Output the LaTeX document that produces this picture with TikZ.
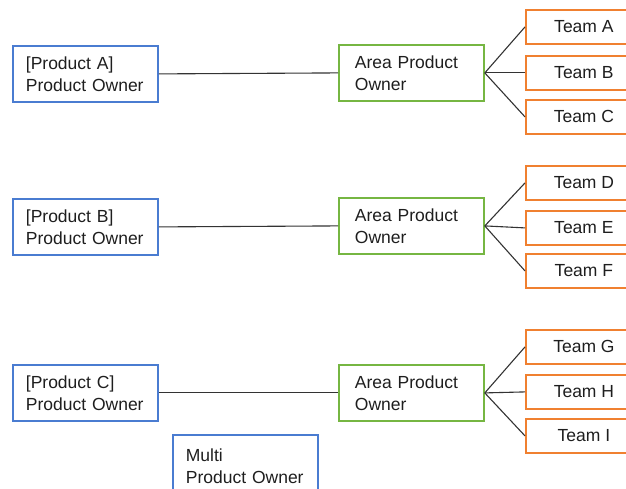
\documentclass[tikz,border=0pt]{standalone}
\usepackage{fontspec}
\setmainfont{Liberation Sans}
\definecolor{poblue}{RGB}{74,124,209}
\definecolor{apogreen}{RGB}{118,182,66}
\definecolor{teamorange}{RGB}{240,128,48}
\definecolor{txtgrey}{RGB}{30,30,30}
\tikzset{
  box/.style={rectangle,line width=1.8pt,anchor=north west,minimum height=56pt,
    text=txtgrey,font=\fontsize{17.5}{22}\selectfont},
  pobox/.style={box,draw=poblue,text width=119pt,inner xsep=13pt,align=left},
  apobox/.style={box,draw=apogreen,text width=113pt,inner xsep=16pt,align=left},
  teambox/.style={box,draw=teamorange,minimum height=34pt,minimum width=116pt,align=center},
  link/.style={draw=black!80,line width=1.1pt}
}
\begin{document}
\begin{tikzpicture}[x=1pt,y=-1pt]
\useasboundingbox (0,0) rectangle (626,488);
% product A
\node[pobox] (poA) at (12,45) {[Product A]\\Product Owner};
\node[apobox] (apoA) at (338,44) {Area Product\\Owner};
\node[teambox] (tmA) at (525,9) {Team A};
\node[teambox] (tmB) at (525,55) {Team B};
\node[teambox] (tmC) at (525,99) {Team C};
% product B
\node[pobox] (poB) at (12,198) {[Product B]\\Product Owner};
\node[apobox] (apoB) at (338,197) {Area Product\\Owner};
\node[teambox] (tmD) at (525,165) {Team D};
\node[teambox] (tmE) at (525,210) {Team E};
\node[teambox] (tmF) at (525,253) {Team F};
% product C
\node[pobox] (poC) at (12,364) {[Product C]\\Product Owner};
\node[apobox] (apoC) at (338,364) {Area Product\\Owner};
\node[teambox] (tmG) at (525,329) {Team G};
\node[teambox] (tmH) at (525,374) {Team H};
\node[teambox] (tmI) at (525,418) {Team I};
\node[pobox,minimum height=62pt] (multi) at (172,434) {Multi\\Product Owner};
% links
\foreach \p/\a in {poA/apoA,poB/apoB,poC/apoC}
  \draw[link] (\p.east) -- (\a.west);
\foreach \a/\t in {apoA/tmA,apoA/tmB,apoA/tmC,apoB/tmD,apoB/tmE,apoB/tmF,apoC/tmG,apoC/tmH,apoC/tmI}
  \draw[link] (\a.east) -- (\t.west);
\end{tikzpicture}
\end{document}
